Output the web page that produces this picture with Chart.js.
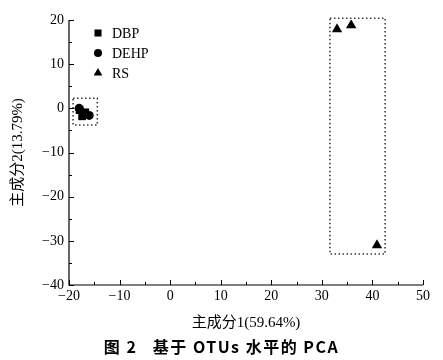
<!DOCTYPE html>
<html>
<head>
<meta charset="utf-8">
<script src="https://cdn.jsdelivr.net/npm/chart.js@4.4.1/dist/chart.umd.min.js"></script>
<style>
html, body { margin: 0; padding: 0; background: #fff; }
#wrap { width: 443px; height: 360px; }
</style>
</head>
<body>
<div id="wrap"><canvas id="grafico_pca"></canvas></div>
<script>
// dados
const dbpX = [-17.4, -16.8, -17.9]
const dbpY = [-1.8, -0.9, -0.4]
const dehpX = [-18.0, -16.0, -17.2]
const dehpY = [0.0, -1.6, -1.2]
const rsX = [33.0, 35.8, 40.9]
const rsY = [17.9, 18.8, -31.0]

// retangulos pontilhados (x0, x1, y0, y1)
const caixaEsq = [-19.2, -14.4, 2.3, -3.8]
const caixaDir = [31.6, 42.5, 20.4, -33.0]

const xTicks = [-20, -10, 0, 10, 20, 30, 40, 50]
const yTicks = [20, 10, 0, -10, -20, -30, -40]

const serie = ['DBP', 'DEHP', 'RS']
const legenda = '图 2   基于 OTUs 水平的 PCA'

const fonteSerif = "'Liberation Serif', 'Times New Roman', 'Noto Sans CJK SC', serif"

function pontos(xs, ys) {
    return xs.map((x, i) => ({ x: x, y: ys[i] }))
}
function caixa(c) {
    return [
        { x: c[0], y: c[2] }, { x: c[1], y: c[2] },
        { x: c[1], y: c[3] }, { x: c[0], y: c[3] },
        { x: c[0], y: c[2] }
    ]
}
const menos = v => String(v).replace('-', '\u2212')

// ticks para dentro + legenda dentro da area + titulo da figura
const extras = {
    id: 'extras',
    afterDraw(chart) {
        const ctx = chart.ctx
        const sx = chart.scales.x
        const sy = chart.scales.y
        const area = chart.chartArea
        ctx.save()
        ctx.strokeStyle = '#000'
        ctx.lineWidth = 1.2
        ctx.beginPath()
        ctx.moveTo(area.left, area.top)
        ctx.lineTo(area.left, area.bottom)
        ctx.lineTo(area.right, area.bottom)
        ctx.stroke()
        ctx.lineWidth = 1
        for (let v = -20; v <= 50; v += 5) {
            const px = Math.round(sx.getPixelForValue(v)) + 0.5
            const len = v % 10 === 0 ? 5 : 3
            ctx.beginPath()
            ctx.moveTo(px, area.bottom)
            ctx.lineTo(px, area.bottom - len)
            ctx.stroke()
        }
        for (let v = -40; v <= 20; v += 5) {
            const py = Math.round(sy.getPixelForValue(v)) + 0.5
            const len = v % 10 === 0 ? 5 : 3
            ctx.beginPath()
            ctx.moveTo(area.left, py)
            ctx.lineTo(area.left + len, py)
            ctx.stroke()
        }
        // legenda
        const tamanhos = [5, 4, 5]
        const lx = area.left + 29
        let ly = area.top + 13
        ctx.font = '14px ' + fonteSerif
        ctx.textBaseline = 'middle'
        chart.data.datasets.slice(0, 3).forEach((ds, i) => {
            ctx.fillStyle = '#000'
            Chart.helpers.drawPoint(ctx, {
                pointStyle: ds.pointStyle,
                radius: tamanhos[i],
                rotation: 0,
                borderWidth: 0
            }, lx, ly)
            ctx.fillStyle = '#000'
            ctx.fillText(ds.label, lx + 14, ly + 1)
            ly += 20
        })
        // titulo da figura
        ctx.font = "bold 16px 'Noto Sans CJK SC', 'Noto Sans', sans-serif"
        ctx.letterSpacing = '1.5px'
        ctx.textAlign = 'center'
        ctx.fillText(legenda, chart.width / 2, 347)
        ctx.restore()
    }
}

new Chart(document.getElementById('grafico_pca'), {
    type: 'scatter',
    data: {
        datasets: [
            {
                label: serie[0],
                data: pontos(dbpX, dbpY),
                pointStyle: 'rect',
                pointRadius: 5.5,
                backgroundColor: '#000',
                borderColor: '#000',
                borderWidth: 0
            },
            {
                label: serie[1],
                data: pontos(dehpX, dehpY),
                pointStyle: 'circle',
                pointRadius: 4.5,
                backgroundColor: '#000',
                borderColor: '#000',
                borderWidth: 0
            },
            {
                label: serie[2],
                data: pontos(rsX, rsY),
                pointStyle: 'triangle',
                pointRadius: 6,
                backgroundColor: '#000',
                borderColor: '#000',
                borderWidth: 0
            },
            {
                label: 'caixa1',
                data: caixa(caixaEsq),
                showLine: true,
                clip: false,
                pointRadius: 0,
                borderColor: '#333',
                borderWidth: 1.5,
                borderDash: [1.5, 2.5]
            },
            {
                label: 'caixa2',
                data: caixa(caixaDir),
                showLine: true,
                clip: false,
                pointRadius: 0,
                borderColor: '#333',
                borderWidth: 1.5,
                borderDash: [1.5, 2.5]
            }
        ]
    },
    options: {
        responsive: true,
        maintainAspectRatio: false,
        animation: false,
        layout: { padding: { top: 20, right: 20, left: 0, bottom: 24 } },
        plugins: {
            legend: { display: false },
            tooltip: { enabled: false }
        },
        scales: {
            x: {
                type: 'linear',
                min: -20,
                max: 50,
                afterBuildTicks: s => { s.ticks = xTicks.map(v => ({ value: v })) },
                afterFit: s => { s.height = 51 },
                grid: { display: false, drawTicks: false },
                border: { display: false },
                ticks: {
                    color: '#000',
                    padding: 3,
                    font: { family: fonteSerif, size: 14 },
                    callback: menos
                },
                title: {
                    display: true,
                    text: '主成分1(59.64%)',
                    color: '#000',
                    font: { family: fonteSerif, size: 15 },
                    padding: { top: 4 }
                }
            },
            y: {
                type: 'linear',
                min: -40,
                max: 20,
                afterBuildTicks: s => { s.ticks = yTicks.map(v => ({ value: v })) },
                afterFit: s => { s.width = 69 },
                grid: { display: false, drawTicks: false },
                border: { display: false },
                ticks: {
                    color: '#000',
                    padding: 5,
                    font: { family: fonteSerif, size: 14 },
                    callback: menos
                },
                title: {
                    display: true,
                    text: '主成分2(13.79%)',
                    color: '#000',
                    font: { family: fonteSerif, size: 15 },
                    padding: { top: 9, bottom: 4 }
                }
            }
        }
    },
    plugins: [extras]
})
</script>
</body>
</html>
